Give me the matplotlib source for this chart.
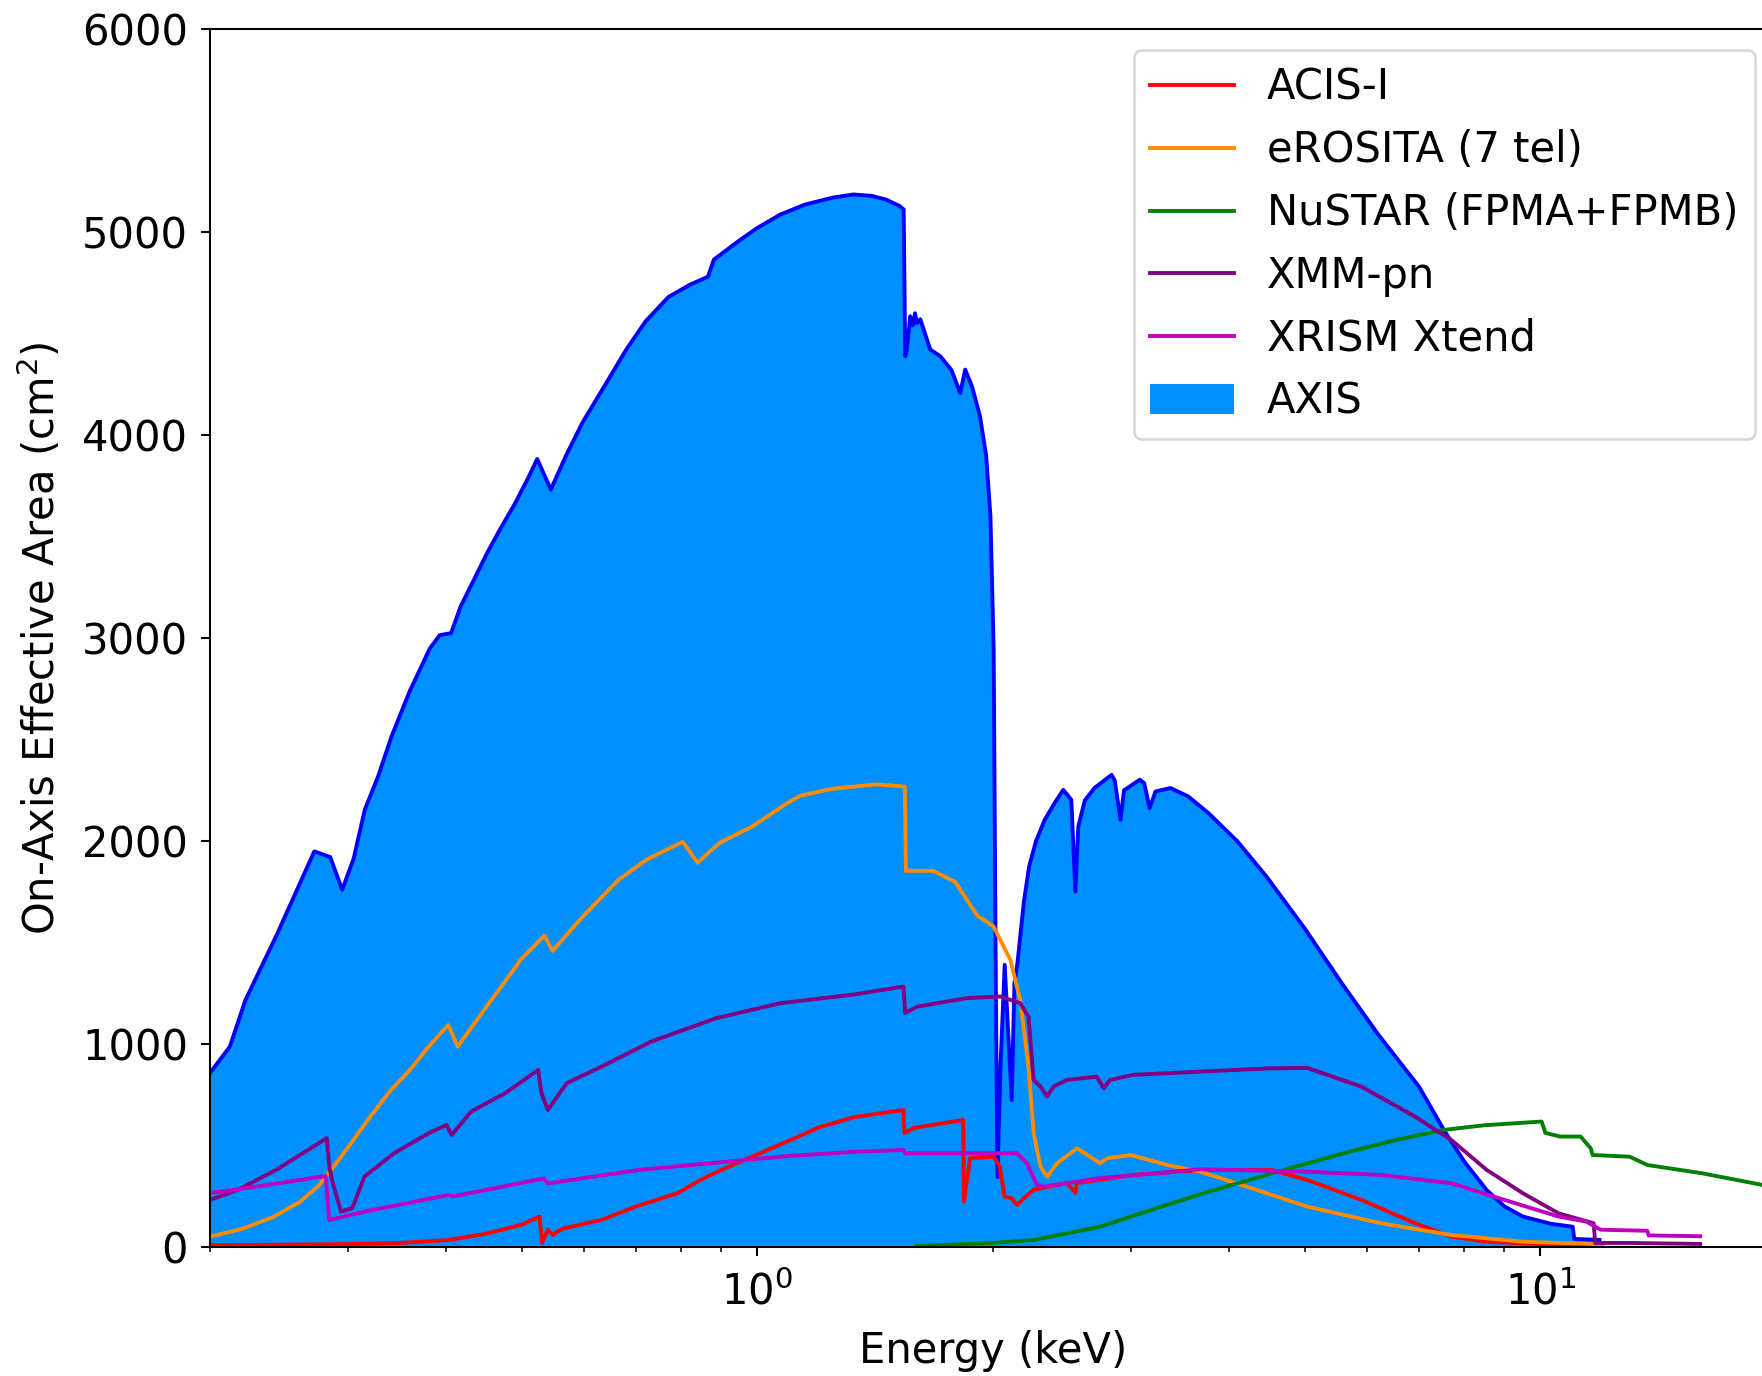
import matplotlib
matplotlib.use("Agg")
import matplotlib.pyplot as plt

# effective area curves (energy in keV, area in cm^2)
axis_e = [0.2, 0.212, 0.222, 0.2431, 0.2718, 0.2848, 0.295, 0.305, 0.3154, 0.328,
          0.341, 0.36, 0.3817, 0.393, 0.4064, 0.418, 0.435, 0.452, 0.47, 0.49,
          0.51, 0.5235, 0.5448, 0.57, 0.598, 0.64, 0.68, 0.72, 0.77, 0.82,
          0.865, 0.88, 0.95, 1.0, 1.07, 1.15, 1.25, 1.327, 1.4, 1.46,
          1.52, 1.538, 1.545, 1.552, 1.568, 1.58, 1.59, 1.60, 1.615, 1.663,
          1.713, 1.77, 1.816, 1.843, 1.88, 1.925, 1.96, 1.985, 2.004, 2.015,
          2.026, 2.045, 2.07, 2.095, 2.113, 2.13, 2.149, 2.19, 2.224, 2.27,
          2.328, 2.40, 2.459, 2.518, 2.548, 2.57, 2.62, 2.695, 2.834, 2.86,
          2.91, 2.94, 3.08, 3.12, 3.17, 3.225, 3.37, 3.55, 3.77, 4.1,
          4.47, 5.0, 5.6, 6.2, 7.0, 7.53, 8.0, 8.54, 9.0, 9.5,
          10.3, 11.0, 11.05, 11.9]
axis_a = [857, 987, 1217, 1534, 1949, 1921, 1760, 1911, 2156, 2320,
          2514, 2740, 2948, 3014, 3024, 3156, 3290, 3420, 3540, 3660,
          3790, 3882, 3731, 3900, 4061, 4250, 4420, 4560, 4680, 4740,
          4780, 4864, 4960, 5020, 5086, 5135, 5170, 5185, 5178, 5160,
          5128, 5111, 4388, 4420, 4585, 4540, 4600, 4550, 4570, 4421,
          4388, 4320, 4207, 4322, 4240, 4092, 3900, 3600, 2940, 1500,
          345, 900, 1390, 1000, 724, 1300, 1398, 1700, 1874, 2000,
          2104, 2190, 2252, 2203, 1751, 2071, 2200, 2261, 2326, 2300,
          2104, 2250, 2302, 2285, 2162, 2244, 2261, 2220, 2137, 2000,
          1825, 1570, 1290, 1050, 790, 577, 420, 281, 200, 150,
          115, 100, 40, 35]

acis_e = [0.2, 0.3, 0.35, 0.403, 0.45, 0.5, 0.527, 0.531, 0.54, 0.548,
          0.555, 0.566, 0.632, 0.70, 0.791, 0.846, 0.9, 1.07, 1.2, 1.33,
          1.537, 1.541, 1.583, 1.832, 1.836, 1.87, 2.003, 2.04, 2.069, 2.11,
          2.146, 2.25, 2.486, 2.548, 2.56, 3.02, 3.68, 4.54, 5.04, 5.91,
          6.92, 7.70, 8.54, 10.0, 12.0]
acis_a = [9, 14, 20, 34, 65, 110, 149, 20, 84, 59,
          75, 92, 133, 200, 265, 330, 380, 505, 590, 640,
          675, 562, 586, 626, 223, 438, 445, 396, 248, 241,
          207, 281, 315, 266, 315, 355, 379, 379, 330, 232,
          117, 51, 26, 15, 9]

erosita_e = [0.2, 0.22, 0.24, 0.26, 0.275, 0.287, 0.30, 0.32, 0.34, 0.36,
             0.38, 0.403, 0.4143, 0.4575, 0.50, 0.5348, 0.5477, 0.60, 0.665, 0.722,
             0.803, 0.839, 0.895, 0.988, 1.09, 1.135, 1.245, 1.42, 1.543, 1.548,
             1.676, 1.79, 1.852, 1.91, 2.003, 2.105, 2.166, 2.22, 2.254, 2.3,
             2.344, 2.414, 2.56, 2.62, 2.74, 2.8, 3.0, 3.34, 3.68, 4.09,
             5.04, 6.26, 7.7, 9.5, 11.7, 12.0]
erosita_a = [51, 90, 145, 220, 300, 390, 490, 640, 770, 872,
             985, 1094, 987, 1217, 1420, 1534, 1459, 1632, 1809, 1908,
             1996, 1893, 1991, 2074, 2185, 2223, 2257, 2279, 2268, 1853,
             1853, 1798, 1710, 1632, 1579, 1414, 1217, 889, 560, 396,
             346, 412, 486, 462, 412, 437, 453, 404, 371, 314,
             199, 117, 59, 26, 15, 12]

nustar_e = [1.6, 2.0, 2.25, 2.74, 3.18, 3.68, 4.54, 5.61, 6.5, 7.54,
            8.5, 9.5, 10.04, 10.15, 10.6, 11.26, 11.6, 11.66, 13.0, 13.7,
            16.1, 19.2, 20.0]
nustar_a = [5, 20, 34, 100, 182, 260, 363, 462, 525, 577,
            600, 612, 618, 562, 544, 544, 486, 453, 445, 404,
            363, 306, 295]

xmm_e = [0.2, 0.217, 0.243, 0.282, 0.284, 0.287, 0.294, 0.304, 0.315, 0.344,
         0.381, 0.401, 0.407, 0.431, 0.477, 0.525, 0.53, 0.54, 0.571, 0.632,
         0.732, 0.886, 1.07, 1.33, 1.537, 1.545, 1.6, 1.852, 2.044, 2.166,
         2.22, 2.254, 2.3, 2.344, 2.39, 2.486, 2.713, 2.77, 2.82, 3.02,
         3.68, 4.5, 5.04, 5.91, 6.92, 7.70, 8.54, 9.5, 10.55, 11.7,
         11.75, 13.0, 16.0]
xmm_a = [232, 281, 380, 536, 396, 315, 174, 192, 347, 463,
         562, 601, 552, 667, 759, 872, 760, 675, 807, 888,
         1012, 1127, 1201, 1244, 1283, 1153, 1184, 1226, 1234, 1201,
         1135, 823, 790, 741, 790, 823, 839, 782, 823, 848,
         864, 880, 882, 790, 642, 527, 380, 265, 166, 117,
         20, 20, 15]

xrism_e = [0.2, 0.229, 0.281, 0.284, 0.322, 0.403, 0.41, 0.534, 0.54, 0.707,
           1.07, 1.33, 1.537, 1.545, 2.146, 2.21, 2.277, 2.32, 2.74, 3.68,
           5.04, 6.26, 7.70, 9.0, 10.55, 11.45, 11.85, 11.95, 13.7, 13.75,
           16.0]
xrism_a = [266, 297, 350, 133, 182, 256, 250, 338, 313, 380,
           445, 469, 478, 462, 462, 412, 306, 297, 339, 383,
           371, 355, 314, 232, 150, 125, 92, 85, 80, 57,
           53]

# original was rendered at about 185 dpi, this one is saved at 100 dpi
k = 1.85

plt.rcParams['font.size'] = 30
fig = plt.figure(figsize=(17.62, 13.76), dpi=100)
# axes run past the right edge of the picture, like in the cropped reference
ax = fig.add_axes([210 / 1762, 129 / 1376, 1566 / 1762, 1218 / 1376])

fill = ax.fill_between(axis_e, axis_a, color='#008fff', lw=0, label='AXIS')
ax.plot(axis_e, axis_a, color='blue', lw=1.5 * k)

l1, = ax.plot(acis_e, acis_a, color='red', lw=1.5 * k, label='ACIS-I')
l2, = ax.plot(erosita_e, erosita_a, color='darkorange', lw=1.5 * k, label='eROSITA (7 tel)')
l3, = ax.plot(nustar_e, nustar_a, color='green', lw=1.5 * k, label='NuSTAR (FPMA+FPMB)')
l4, = ax.plot(xmm_e, xmm_a, color='purple', lw=1.5 * k, label='XMM-pn')
l5, = ax.plot(xrism_e, xrism_a, color='m', lw=1.5 * k, label='XRISM Xtend')

ax.set_xscale('log')
ax.set_xlim(0.2, 20)
ax.set_ylim(0, 6000)

ax.set_xlabel('Energy (keV)', labelpad=11.7)
ax.set_ylabel('On-Axis Effective Area (cm$^2$)', labelpad=7 * k)

ax.tick_params(which='major', length=3.5 * k, width=0.8 * k)
ax.tick_params(which='minor', length=2 * k, width=0.6 * k)
ax.tick_params(axis='x', which='both', pad=11)
ax.tick_params(axis='y', pad=5 * k)
for sp in ax.spines.values():
    sp.set_linewidth(0.8 * k)

leg = ax.legend([l1, l2, l3, l4, l5, fill],
                ['ACIS-I', 'eROSITA (7 tel)', 'NuSTAR (FPMA+FPMB)', 'XMM-pn', 'XRISM Xtend', 'AXIS'],
                loc='upper right', fontsize=30)
leg.get_frame().set_linewidth(1.0 * k)

fig.savefig('out.png', dpi=100)
